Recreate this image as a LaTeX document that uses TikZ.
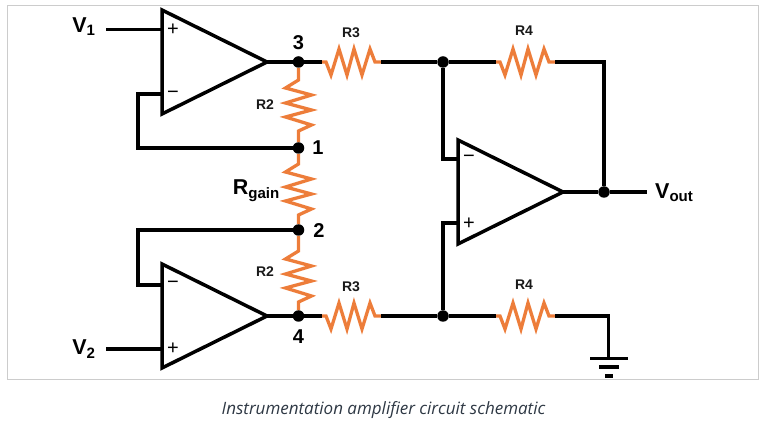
\documentclass[tikz,border=0pt]{standalone}
\usepackage{fontspec}
\setmainfont{Liberation Sans}
\newfontfamily\capfont{Open Sans}
\usetikzlibrary{shapes.geometric}
\definecolor{resorange}{HTML}{ED7D3A}
\definecolor{framegray}{HTML}{CCCCCC}
\definecolor{captext}{HTML}{2E3844}
\tikzset{
  wire/.style={line width=3.5pt,black,line join=miter},
  res/.style={line width=3.3pt,resorange,line join=miter},
  dot/.style={circle,fill=black,inner sep=0pt,minimum size=11.5pt},
  opamp/.style={isosceles triangle,isosceles triangle stretches,draw=black,line width=3.5pt,
    inner sep=0pt,outer sep=0pt,minimum width=104pt,minimum height=105pt,anchor=apex},
  lbl/.style={font=\bfseries\fontsize{14}{14}\selectfont,inner sep=0pt,text=black!90},
  num/.style={font=\bfseries\fontsize{20}{20}\selectfont,inner sep=0pt},
  volt/.style={font=\bfseries\fontsize{21.5}{21.5}\selectfont,inner sep=0pt},
  sgn/.style={font=\fontsize{20}{20}\selectfont,inner sep=0pt},
}
\newcommand{\hres}{-- ++(4,0) -- ++(5,13) -- ++(8,-26) -- ++(8,26) -- ++(7,-26) -- ++(8,26) -- ++(8,-26) -- ++(5,13)}
\newcommand{\vres}{-- ++(-13,8) -- ++(26,7) -- ++(-26,8) -- ++(26,7) -- ++(-26,7) -- ++(26,8) -- ++(-13,6)}
\begin{document}
\begin{tikzpicture}[x=1pt,y=-1pt]
    \useasboundingbox (0,0) rectangle (766,427);
    \draw[framegray,line width=1pt] (7.5,6) rectangle (758,380);
    %% Op amps
    \node[opamp] (op1) at (267,62) {};
    \node[opamp] (op2) at (267,316) {};
    \node[opamp] (op3) at (563,192) {};
    %% Junctions
    \node[dot] (n3) at (298.5,62) {};
    \node[dot] (n1) at (298.5,148) {};
    \node[dot] (n2) at (298.5,230) {};
    \node[dot] (n4) at (298.5,316) {};
    \node[dot] (top) at (443,62) {};
    \node[dot] (bot) at (443,316) {};
    \node[dot] (out) at (604,192) {};
    %% Free ends
    \coordinate (in1) at (106,29.5);
    \coordinate (in2) at (106,349);
    \coordinate (op1p) at (162,29.5);
    \coordinate (op1m) at (162,94);
    \coordinate (op2m) at (162,285);
    \coordinate (op2p) at (162,349);
    \coordinate (op3m) at (458,159);
    \coordinate (op3p) at (458,223);
    \coordinate (vout) at (647,192);
    \coordinate (gnd) at (608.5,358.5);
    %% Resistors
    \draw[res] (n3) -- (298.5,80) \vres -- (n1);
    \draw[res] (n1) -- (298.5,164) \vres -- (n2);
    \draw[res] (n2) -- (298.5,251) \vres -- (n4);
    \draw[res] (322,62) coordinate (r3a) \hres -- ++(6,0) coordinate (r3b);
    \draw[res] (496,62) coordinate (r4a) \hres -- ++(6,0) coordinate (r4b);
    \draw[res] (322,316) coordinate (r5a) \hres -- ++(6,0) coordinate (r5b);
    \draw[res] (496,316) coordinate (r6a) \hres -- ++(6,0) coordinate (r6b);
    %% Wires
    \draw[wire] (in1) -- (op1p);
    \draw[wire] (in2) -- (op2p);
    \draw[wire] (op1.apex) -- (n3) -- (r3a);
    \draw[wire] (op2.apex) -- (n4) -- (r5a);
    \draw[wire] (r3b) -- (top) -- (r4a);
    \draw[wire] (r5b) -- (bot) -- (r6a);
    \draw[wire] (r4b) -| (out);
    \draw[wire] (op3.apex) -- (out) -- (vout);
    \draw[wire] (op1m) -| (138,148) -- (n1);
    \draw[wire] (op2m) -| (138,230) -- (n2);
    \draw[wire] (op3m) -| (top);
    \draw[wire] (op3p) -| (bot);
    \draw[wire] (r6b) -| (gnd);
    %% Ground
    \draw[wire] (590,358.5) -- (gnd) -- (628,358.5);
    \draw[wire] (599,367) -- (619,367);
    \draw[wire] (605,376) -- (613,376);
    %% Signs
    \node[sgn] at (173,30) {+};
    \node[sgn] at (173,95) {\textminus};
    \node[sgn] at (173,285) {\textminus};
    \node[sgn] at (173,349) {+};
    \node[sgn] at (469,159) {\textminus};
    \node[sgn] at (469,224) {+};
    %% Labels
    \node[volt] (v1) at (84,27) {V\textsubscript{1}};
    \node[volt] (v2) at (84,349) {V\textsubscript{2}};
    \node[volt,anchor=west] (vo) at (655,193) {V\textsubscript{out}};
    \node[volt,anchor=east] (rg) at (280,191) {R\textsubscript{gain}};
    \node[num] at (298.5,43) {3};
    \node[num] at (318,148) {1};
    \node[num] at (319,231) {2};
    \node[num] at (298.5,337) {4};
    \node[lbl] at (265,105) {R2};
    \node[lbl] at (265,272) {R2};
    \node[lbl] at (351,33) {R3};
    \node[lbl] at (351,287) {R3};
    \node[lbl] at (524,31) {R4};
    \node[lbl] at (524,285) {R4};
    \node[font=\capfont\itshape\fontsize{17}{17}\selectfont,text=captext,inner sep=0pt] (cap) at (383.5,410) {Instrumentation amplifier circuit schematic};
\end{tikzpicture}
\end{document}
